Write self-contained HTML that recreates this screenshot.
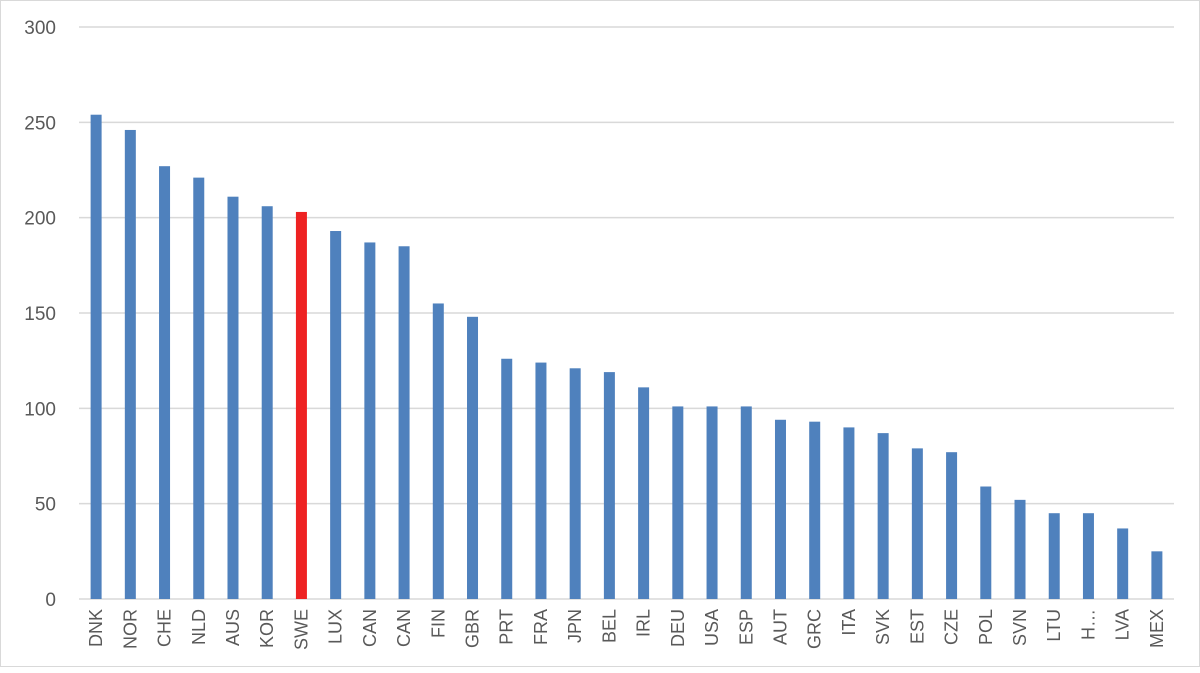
<!DOCTYPE html>
<html><head><meta charset="utf-8"><style>
body{margin:0;background:#fff;font-family:"Liberation Sans",sans-serif}
#c{position:absolute;left:0;top:0;width:1198px;height:665px;border:1px solid #d9d9d9}
</style></head><body>
<div id="c">
<svg id="s" width="1200" height="667"></svg>
</div>
<script>
const categories=["DNK","NOR","CHE","NLD","AUS","KOR","SWE","LUX","CAN","CAN","FIN","GBR","PRT","FRA","JPN","BEL","IRL","DEU","USA","ESP","AUT","GRC","ITA","SVK","EST","CZE","POL","SVN","LTU","H…","LVA","MEX"];
const values=[254,246,227,221,211,206,203,193,187,185,155,148,126,124,121,119,111,101,101,101,94,93,90,87,79,77,59,52,45,45,37,25];
const highlight=["SWE"];
const yTicks=[0,50,100,150,200,250,300];
const NS="http://www.w3.org/2000/svg";
const s=document.getElementById('s');
const x0=78,x1=1173,yTop=26,yBot=598,yMax=300;
const y=v=>yBot-(v/yMax)*(yBot-yTop);
const step=(x1-x0)/categories.length;
const xc=i=>x0+step*(i+0.5);
function el(t,a){const e=document.createElementNS(NS,t);for(const k in a)e.setAttribute(k,a[k]);s.appendChild(e);return e;}
yTicks.forEach(v=>{
 const g=el('line',{x1:x0,x2:x1,y1:y(v),y2:y(v),stroke:'#d9d9d9','stroke-width':1.5});
 
 
 const t=el('text',{x:55,y:y(v)+7,'text-anchor':'end','font-size':19,fill:'#595959'});
 t.textContent=v;
 
 
});
categories.forEach((c,i)=>{
 const b=el('rect',{x:xc(i)-5.5,y:y(values[i]),width:11,height:yBot-y(values[i]),fill:highlight.includes(c)?'#ee2222':'#4f81bd'});
 
 
 const t=el('text',{x:0,y:0,'text-anchor':'end','font-size':18,fill:'#595959',transform:`translate(${xc(i)+6},${yBot+10}) rotate(-90)`});
 t.textContent=c;
 
 
});
</script>
</body></html>
